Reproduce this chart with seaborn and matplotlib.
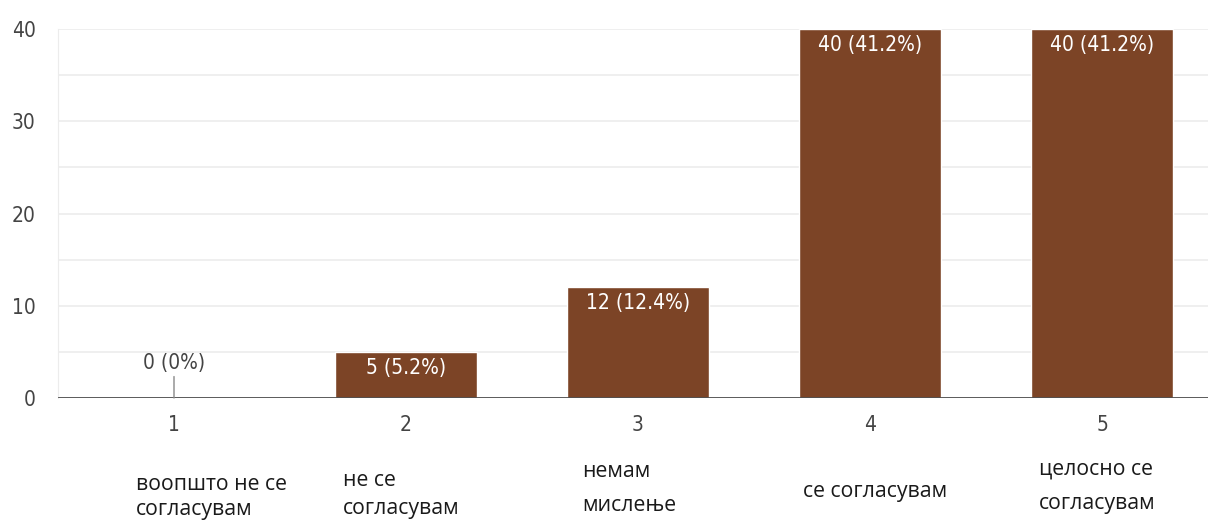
import numpy as np
import pandas as pd
import seaborn as sns
import matplotlib.pyplot as plt
from matplotlib.ticker import MultipleLocator
import matplotlib.transforms as mtransforms

# data
scale = ['1', '2', '3', '4', '5']
counts = [0, 5, 12, 40, 40]
answers = ['воопшто не се\nсогласувам', 'не се\nсогласувам', 'немам\nмислење',
           'се согласувам', 'целосно се\nсогласувам']

total = sum(counts)
df = pd.DataFrame({'scale': scale, 'count': counts})

sns.set_style('white')
plt.rcParams['font.family'] = ['DejaVu Sans']
plt.rcParams['font.stretch'] = 'condensed'

fig = plt.figure(figsize=(12.08, 5.21), dpi=100)
ax = fig.add_axes([58 / 1208, 123 / 521, 1160 / 1208, 369 / 521])

brown = '#7c4426'
sns.barplot(data=df, x='scale', y='count', color=brown, width=0.616,
            saturation=1, ax=ax)

ax.set_xlim(-0.5, 4.5)
ax.set_ylim(0, 40)
ax.yaxis.set_major_locator(MultipleLocator(10))
ax.yaxis.set_minor_locator(MultipleLocator(5))
ax.grid(True, which='both', axis='y', color='#ececec', lw=1.2)
ax.set_axisbelow(True)
for s in ['top', 'right', 'bottom']:
    ax.spines[s].set_visible(False)
ax.spines['left'].set_color('#ececec')
ax.axhline(0, color='#4d4d4d', lw=2, zorder=3)

ax.set_xlabel('')
ax.set_ylabel('')
ax.tick_params(axis='both', length=0, labelsize=15, labelcolor='#444444')
ax.tick_params(axis='y', pad=16)
ax.tick_params(axis='x', pad=12)

# value labels
for i, v in enumerate(counts):
    pct = v / total * 100
    lab = f'{v} ({pct:.1f}%)' if v else f'{v} (0%)'
    if v > 0:
        ax.annotate(lab, (i, v), xytext=(0, -11.5), textcoords='offset points',
                    ha='center', va='center', color='white', fontsize=15)
    else:
        ax.annotate(lab, (i, v), xytext=(0, 25), textcoords='offset points',
                    ha='center', va='center', color='#444444', fontsize=15,
                    arrowprops=dict(arrowstyle='-', color='#888888', lw=1,
                                    shrinkA=0, shrinkB=0))

# answer texts under the scale
offs = [-0.165, -0.27, -0.24, -0.29, -0.27]
ys = [-0.205, -0.195, -0.17, -0.225, -0.165]
spacing = [1.3, 1.45, 1.85, 1.6, 1.8]
trans = mtransforms.blended_transform_factory(ax.transData, ax.transAxes)
for i, t in enumerate(answers):
    ax.text(i + offs[i], ys[i], t, transform=trans, ha='left', va='top',
            fontsize=15.3, family=['Open Sans', 'DejaVu Sans'],
            fontstretch='normal', color='#1a1a1a', linespacing=spacing[i])

fig.savefig('out.png', dpi=100)
